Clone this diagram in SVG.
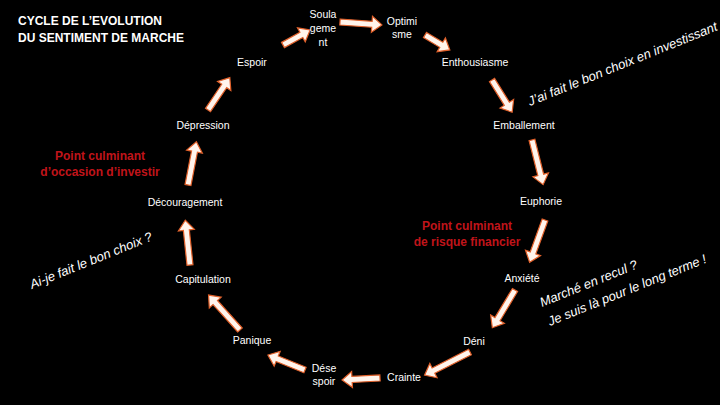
<svg xmlns="http://www.w3.org/2000/svg" width="720" height="405" viewBox="0 0 720 405">
<style>
text{font-family:"Liberation Sans",Arial,sans-serif;fill:#fff}
.n{font-size:10.5px;text-anchor:middle}
.t{font-size:12px;font-weight:bold}
.r{font-size:12px;font-weight:bold;fill:#c0141a;text-anchor:middle}
.i{font-size:13px;font-style:italic}
.a{fill:#fff4ec;stroke:#e0602a;stroke-width:1.2}
</style>
<rect width="720" height="405" fill="#000"/>
<text class="t" x="18" y="25">CYCLE DE L’EVOLUTION</text>
<text class="t" x="18" y="42">DU SENTIMENT DE MARCHE</text>
<g id="connectors">
<path class="a" transform="translate(283,45) rotate(-29)" d="M0,-3 H21 V-8 L31,0 L21,8 V3 H0 Z"/>
<path class="a" transform="translate(340,22) rotate(4)" d="M0,-3 H32 V-8 L42,0 L32,8 V3 H0 Z"/>
<path class="a" transform="translate(425,35) rotate(31)" d="M0,-3 H19 V-8 L29,0 L19,8 V3 H0 Z"/>
<path class="a" transform="translate(492,80) rotate(58)" d="M0,-3 H28 V-8 L38,0 L28,8 V3 H0 Z"/>
<path class="a" transform="translate(532,140) rotate(76)" d="M0,-3 H36 V-8 L46,0 L36,8 V3 H0 Z"/>
<path class="a" transform="translate(545,220) rotate(110)" d="M0,-3 H35 V-8 L45,0 L35,8 V3 H0 Z"/>
<path class="a" transform="translate(515,290) rotate(121)" d="M0,-3 H34 V-8 L44,0 L34,8 V3 H0 Z"/>
<path class="a" transform="translate(470,352) rotate(153)" d="M0,-3 H41 V-8 L51,0 L41,8 V3 H0 Z"/>
<path class="a" transform="translate(380,378) rotate(177)" d="M0,-3 H28 V-8 L38,0 L28,8 V3 H0 Z"/>
<path class="a" transform="translate(305,370) rotate(202)" d="M0,-3 H30 V-8 L40,0 L30,8 V3 H0 Z"/>
<path class="a" transform="translate(240,330) rotate(228)" d="M0,-3 H37 V-8 L47,0 L37,8 V3 H0 Z"/>
<path class="a" transform="translate(190,265) rotate(264)" d="M0,-3 H35 V-8 L45,0 L35,8 V3 H0 Z"/>
<path class="a" transform="translate(188,185) rotate(281)" d="M0,-3 H34 V-8 L44,0 L34,8 V3 H0 Z"/>
<path class="a" transform="translate(208,110) rotate(304)" d="M0,-3 H29 V-8 L39,0 L29,8 V3 H0 Z"/>
</g>
<g id="soulagement"><text class="n" x="323" y="18">Soula</text><text class="n" x="323" y="32">geme</text><text class="n" x="323" y="46">nt</text></g>
<g id="optimisme"><text class="n" x="402" y="25">Optimi</text><text class="n" x="402" y="38">sme</text></g>
<g id="enthousiasme"><text class="n" x="475" y="66">Enthousiasme</text></g>
<g id="emballement"><text class="n" x="524" y="129">Emballement</text></g>
<g id="euphorie"><text class="n" x="541" y="205">Euphorie</text></g>
<g id="anxiete"><text class="n" x="522" y="282">Anxiété</text></g>
<g id="deni"><text class="n" x="474" y="345">Déni</text></g>
<g id="crainte"><text class="n" x="404" y="381">Crainte</text></g>
<g id="desespoir"><text class="n" x="324" y="372">Dése</text><text class="n" x="324" y="385">spoir</text></g>
<g id="panique"><text class="n" x="252" y="344">Panique</text></g>
<g id="capitulation"><text class="n" x="203" y="283">Capitulation</text></g>
<g id="decouragement"><text class="n" x="185" y="206">Découragement</text></g>
<g id="depression"><text class="n" x="203" y="129">Dépression</text></g>
<g id="espoir"><text class="n" x="252" y="66">Espoir</text></g>
<text class="r" x="100" y="160">Point culminant</text>
<text class="r" x="100" y="176">d’occasion d’investir</text>
<text class="r" x="467" y="230">Point culminant</text>
<text class="r" x="467" y="246">de risque financier</text>
<text class="i" transform="translate(530,106) rotate(-22)">J’ai fait le bon choix en investissant</text>
<text class="i" transform="translate(32,289) rotate(-22)">Ai-je fait le bon choix ?</text>
<text class="i" transform="translate(542,307) rotate(-22)">Marché en recul ?</text>
<text class="i" transform="translate(550,326) rotate(-22)">Je suis là pour le long terme !</text>
</svg>
